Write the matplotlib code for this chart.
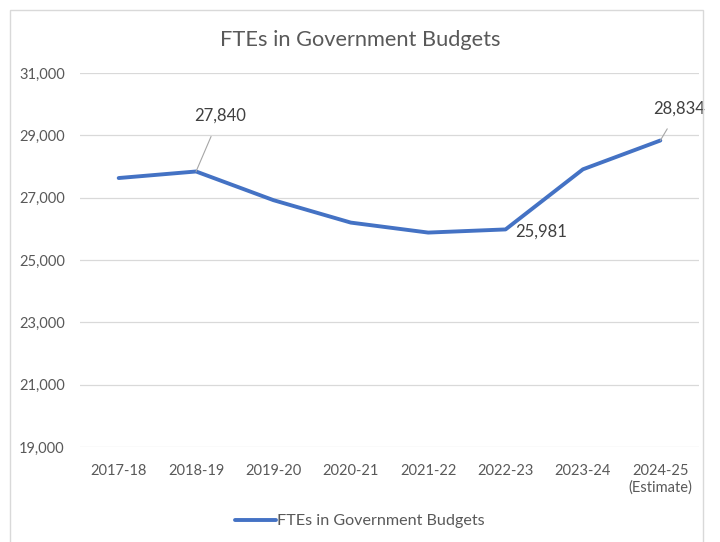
import matplotlib
matplotlib.use("Agg")
import matplotlib.pyplot as plt
from matplotlib.patches import Rectangle

categories = ["2017-18", "2018-19", "2019-20", "2020-21", "2021-22", "2022-23", "2023-24", "2024-25\n(Estimate)"]
ftes = [27630, 27840, 26920, 26200, 25880, 25981, 27910, 28834]
series_name = "FTEs in Government Budgets"
title = "FTEs in Government Budgets"
yticks = [19000, 21000, 23000, 25000, 27000, 29000, 31000]

plt.rcParams['font.family'] = ['Lato', 'DejaVu Sans']
text_color = "#595959"
line_color = "#4472C4"

fig = plt.figure(figsize=(7.2, 5.42), dpi=100)
fig.patches.append(Rectangle((10/720, -0.05), 693/720, 1.05 - 10/542, transform=fig.transFigure,
                             fill=False, edgecolor="#D9D9D9", linewidth=1.0, figure=fig))
ax = fig.add_axes([80/720, 1 - 447/542, 619/720, 374/542])

x = list(range(len(categories)))
ax.plot(x, ftes, color=line_color, linewidth=2.8, solid_capstyle='round', solid_joinstyle='round',
        label=series_name, zorder=3)

ax.set_xlim(-0.5, len(categories) - 0.5)
ax.set_ylim(19000, 31000)
ax.set_yticks(yticks)
ax.set_yticklabels([f"{v:,}" for v in yticks])
ax.set_xticks(x)
ax.set_xticklabels(categories)
ax.grid(axis='y', color="#D9D9D9", linewidth=0.9)
ax.set_axisbelow(True)
for s in ax.spines.values():
    s.set_visible(False)
ax.tick_params(axis='both', length=0, labelsize=10.5, labelcolor=text_color)
ax.tick_params(axis='x', pad=12)
ax.tick_params(axis='y', pad=11)

# data labels
ax.annotate(f"{ftes[1]:,}", xy=(x[1], ftes[1]), xytext=(24, 56), textcoords='offset pixels',
            ha='center', va='center', fontsize=12, color="#404040",
            arrowprops=dict(arrowstyle='-', color="#A6A6A6", linewidth=0.8, shrinkA=8, shrinkB=0))
ax.annotate(f"{ftes[7]:,}", xy=(x[7], ftes[7]), xytext=(19, 32), textcoords='offset pixels',
            ha='center', va='center', fontsize=12, color="#404040",
            arrowprops=dict(arrowstyle='-', color="#A6A6A6", linewidth=0.8, shrinkA=8, shrinkB=0))
ax.annotate(f"{ftes[5]:,}", xy=(x[5], ftes[5]), xytext=(10, -2), textcoords='offset pixels',
            ha='left', va='center', fontsize=12, color="#404040")

fig.text(0.5, 1 - 40/542, title, ha='center', va='center', fontsize=15.7, color=text_color)

leg = fig.legend(loc='center', bbox_to_anchor=(0.5, 1 - 521/542), frameon=False, fontsize=11.6,
                 handlelength=2.5, handletextpad=0.1)
for t in leg.get_texts():
    t.set_color(text_color)

fig.savefig("out.png", dpi=100, facecolor='white')
